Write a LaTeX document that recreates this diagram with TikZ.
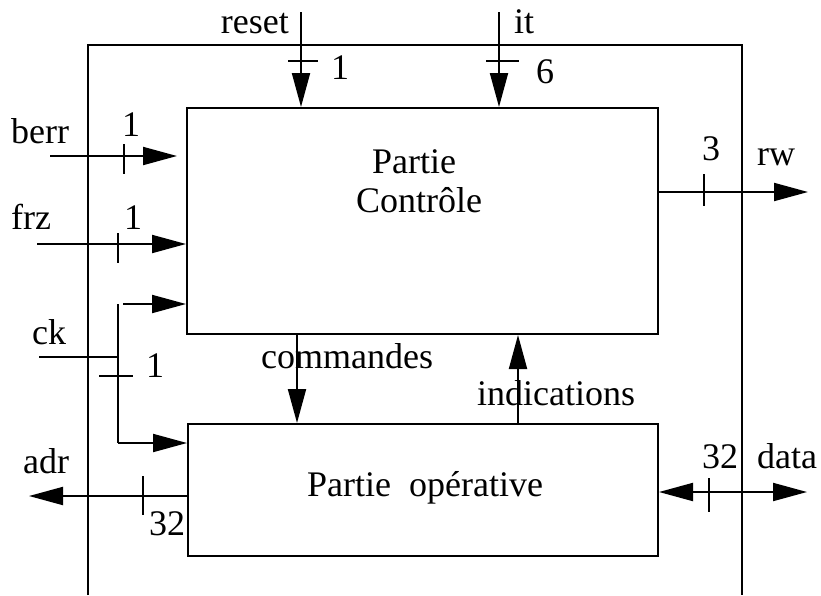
\documentclass[tikz,border=0pt]{standalone}
\usepackage{fontspec}
\setmainfont{Liberation Serif}
\usetikzlibrary{arrows.meta}
\begin{document}
\begin{tikzpicture}[x=1pt,y=-1pt,
  wire/.style={line width=2pt},
  arr/.style={wire,-{Triangle[length=34pt,width=18pt]}},
  darr/.style={wire,{Triangle[length=34pt,width=18pt]}-{Triangle[length=34pt,width=18pt]}},
  blk/.style={draw,line width=2pt,inner sep=0pt,align=center},
  lbl/.style={font=\fontsize{36}{42}\selectfont,inner sep=0pt}]
\useasboundingbox (0,0) rectangle (821,595);
% outer frame
\coordinate (fbl) at (88,595);
\coordinate (ftl) at (88,45);
\coordinate (ftr) at (742,45);
\coordinate (fbr) at (742,595);
\draw[wire] (fbl) -- (ftl) -- (ftr) -- (fbr);
% blocks
\node[blk,minimum width=471pt,minimum height=226pt,anchor=north west] (ctl) at (186,107) {};
\node[blk,minimum width=470pt,minimum height=132pt,anchor=north west] (ops) at (187,423) {};
\node[lbl,anchor=base west] (ctlt1) at (372,173) {Partie};
\node[lbl,anchor=base west] (ctlt2) at (356,212) {Contrôle};
\node[lbl,anchor=base west] (opst) at (307,496) {Partie\ \ opérative};
% reset
\coordinate (reset) at (301,12);
\draw[arr] (reset) -- (reset |- ctl.north);
\draw[wire] (288,61) -- (318,61);
\node[lbl,anchor=base east] (resetl) at (289,33) {reset};
\node[lbl,anchor=base west] (reset1) at (331,79) {1};
% it
\coordinate (it) at (499,12);
\draw[arr] (it) -- (it |- ctl.north);
\draw[wire] (486,61) -- (519,61);
\node[lbl,anchor=base west] (itl) at (514,33) {it};
\node[lbl,anchor=base west] (it6) at (536,83) {6};
% berr
\coordinate (berr) at (50,156);
\draw[arr] (berr) -- (177,156);
\draw[wire] (124,144) -- (124,174);
\node[lbl,anchor=base west] (berrl) at (11,143) {berr};
\node[lbl,anchor=base west] (berr1) at (122,136) {1};
\coordinate (frz) at (37,244);
\draw[arr] (frz) -- (frz -| ctl.west);
\draw[wire] (118,233) -- (118,263);
\node[lbl,anchor=base west] (frzl) at (11,229) {frz};
\node[lbl,anchor=base west] (frz1) at (124,229) {1};
% ck
\coordinate (ck) at (39,357);
\coordinate (ckj) at (118,357);
\coordinate (cktop) at (118,304);
\coordinate (cktopr) at (123,304);
\coordinate (ckbot) at (118,443);
\draw[wire] (ck) -- (ckj);
\draw[wire] (cktop) -- (ckbot);
\draw[arr] (cktopr) -- (cktopr -| ctl.west);
\draw[arr] (ckbot) -- (ckbot -| ops.west);
\draw[wire] (99,376) -- (133,376);
\node[lbl,anchor=base west] (ckl) at (32,344) {ck};
\node[lbl,anchor=base west] (ck1) at (146,377) {1};
% rw
\coordinate (rw) at (808,192);
\draw[arr] (rw -| ctl.east) -- (rw);
\draw[wire] (704,174) -- (704,206);
\node[lbl,anchor=base west] (rwl) at (757,165) {rw};
\node[lbl,anchor=base west] (rw3) at (702,160) {3};
% adr
\coordinate (adr) at (29,496);
\draw[arr] (adr -| ops.west) -- (adr);
\draw[wire] (143,476) -- (143,515);
\node[lbl,anchor=base west] (adrl) at (23,473) {adr};
\node[lbl,anchor=base west] (adr32) at (149,535) {32};
% data
\coordinate (data) at (807,492);
\draw[darr] (data -| ops.east) -- (data);
\draw[wire] (709,478) -- (709,512);
\node[lbl,anchor=base west] (data32) at (702,468) {32};
\node[lbl,anchor=base west] (datal) at (757,468) {data};
% commandes / indications
\coordinate (cmd) at (297,0);
\draw[arr] (cmd |- ctl.south) -- (cmd |- ops.north);
\coordinate (ind) at (518,0);
\draw[arr] (ind |- ops.north) -- (ind |- ctl.south);
\node[lbl,anchor=base west] (cmdl) at (261,368) {commandes};
\node[lbl,anchor=base west] (indl) at (477,405) {indications};
\end{tikzpicture}
\end{document}
